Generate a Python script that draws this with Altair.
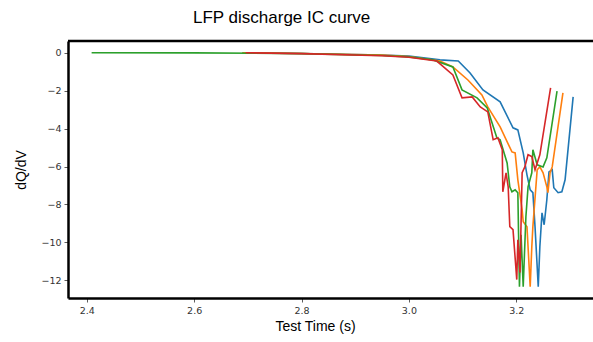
import altair as alt
import pandas as pd

# Series (x = Test Time (s), y = dQ/dV)
blue_x = [2.69, 2.80, 2.95, 3.00, 3.058, 3.092, 3.114, 3.138, 3.170, 3.194, 3.203, 3.213, 3.220,
          3.226, 3.231, 3.235, 3.241, 3.244, 3.248, 3.252, 3.257, 3.261, 3.267, 3.270, 3.278,
          3.285, 3.291, 3.306]
blue_y = [0.0, -0.04, -0.12, -0.18, -0.38, -0.44, -1.07, -1.96, -2.59, -3.96, -4.07, -5.28, -6.44,
          -7.23, -7.38, -9.17, -12.33, -10.23, -8.44, -9.07, -7.75, -6.28, -6.17, -7.12, -7.38,
          -7.33, -6.70, -2.33]

orange_x = [2.69, 2.80, 2.95, 3.00, 3.058, 3.082, 3.110, 3.136, 3.147, 3.170, 3.192, 3.198, 3.203,
            3.211, 3.213, 3.220, 3.226, 3.229, 3.231, 3.239, 3.244, 3.250, 3.257, 3.259, 3.263,
            3.267, 3.287]
orange_y = [0.0, -0.04, -0.13, -0.20, -0.44, -0.75, -1.44, -2.23, -2.86, -3.91, -5.23, -5.28, -6.70,
            -8.28, -8.91, -9.17, -12.33, -10.23, -9.17, -6.17, -6.02, -6.33, -7.07, -7.38, -6.33,
            -6.02, -2.12]

green_x = [2.409, 2.60, 2.80, 2.95, 3.00, 3.045, 3.082, 3.099, 3.127, 3.146, 3.164, 3.170, 3.183,
           3.188, 3.192, 3.198, 3.203, 3.206, 3.209, 3.213, 3.218, 3.222, 3.229, 3.231, 3.239,
           3.250, 3.257, 3.276]
green_y = [0.0, -0.01, -0.05, -0.15, -0.22, -0.38, -0.75, -1.96, -2.38, -2.91, -4.49, -4.59, -5.81,
           -7.07, -7.33, -7.23, -7.38, -12.33, -9.60, -12.33, -8.65, -7.07, -6.33, -5.12, -5.91,
           -6.02, -5.54, -2.02]

red_x = [2.696, 2.80, 2.95, 3.00, 3.052, 3.082, 3.099, 3.118, 3.133, 3.147, 3.157, 3.166, 3.174,
         3.175, 3.181, 3.185, 3.188, 3.194, 3.201, 3.203, 3.207, 3.211, 3.216, 3.222, 3.229,
         3.235, 3.244, 3.264]
red_y = [0.0, -0.05, -0.16, -0.24, -0.44, -1.17, -2.38, -2.33, -2.86, -3.12, -4.59, -4.49, -5.12,
         -7.33, -6.33, -7.07, -9.17, -9.33, -11.96, -9.86, -11.59, -6.33, -6.02, -5.38, -5.48,
         -6.17, -5.38, -1.86]

series_names = ["s1", "s2", "s3", "s4"]
series_colors = ["#1f77b4", "#ff7f0e", "#2ca02c", "#d62728"]
x_ticks = [2.4, 2.6, 2.8, 3.0, 3.2]
y_ticks = [-12, -10, -8, -6, -4, -2, 0]

rows = []
for name, xs, ys in zip(series_names, [blue_x, orange_x, green_x, red_x],
                        [blue_y, orange_y, green_y, red_y]):
    for i, (xv, yv) in enumerate(zip(xs, ys)):
        rows.append({"series": name, "idx": i, "x": xv, "y": yv})
df = pd.DataFrame(rows)

W, H = 525, 257

axis_style = dict(
    grid=False, domainColor="black", domainWidth=2.5, tickColor="#333333", tickSize=4,
    tickWidth=0.8, labelFont="DejaVu Sans", labelFontSize=9.5, labelColor="#333333",
    labelPadding=3, titleFont="Liberation Sans", titleFontSize=14, titleFontWeight="normal",
    titleColor="black",
)

lines = alt.Chart(df).mark_line(strokeWidth=1.6, clip=True).encode(
    x=alt.X("x:Q", scale=alt.Scale(domain=[2.365, 3.343], nice=False, zero=False),
            axis=alt.Axis(values=x_ticks, format=".1f", title="Test Time (s)",
                          titleX=247, titlePadding=5, **axis_style)),
    y=alt.Y("y:Q", scale=alt.Scale(domain=[-12.93, 0.616], nice=False, zero=False),
            axis=alt.Axis(values=y_ticks, title="dQ/dV",
                          labelExpr="replace(datum.label, '-', '\u2212')", titlePadding=12,
                          **axis_style)),
    color=alt.Color("series:N", scale=alt.Scale(domain=series_names, range=series_colors),
                    legend=None),
    order=alt.Order("idx:Q"),
)

top_border = alt.Chart(pd.DataFrame({"a": [0]})).mark_rule(color="black", strokeWidth=2.5).encode(
    x=alt.value(0), x2=alt.value(W), y=alt.value(0)
)

chart = alt.layer(lines, top_border).properties(
    width=W, height=H, background="white",
    title=alt.TitleParams("LFP discharge IC curve", anchor="start", frame="group", dx=125,
                          offset=13, fontSize=17, font="Liberation Sans", fontWeight="normal",
                          color="black"),
    autosize=alt.AutoSizeParams(type="none"),
    padding={"left": 68, "top": 41, "right": 0, "bottom": 44},
).configure_view(stroke=None)

chart.save("out.html", embed_options={"renderer": "svg", "actions": False})
